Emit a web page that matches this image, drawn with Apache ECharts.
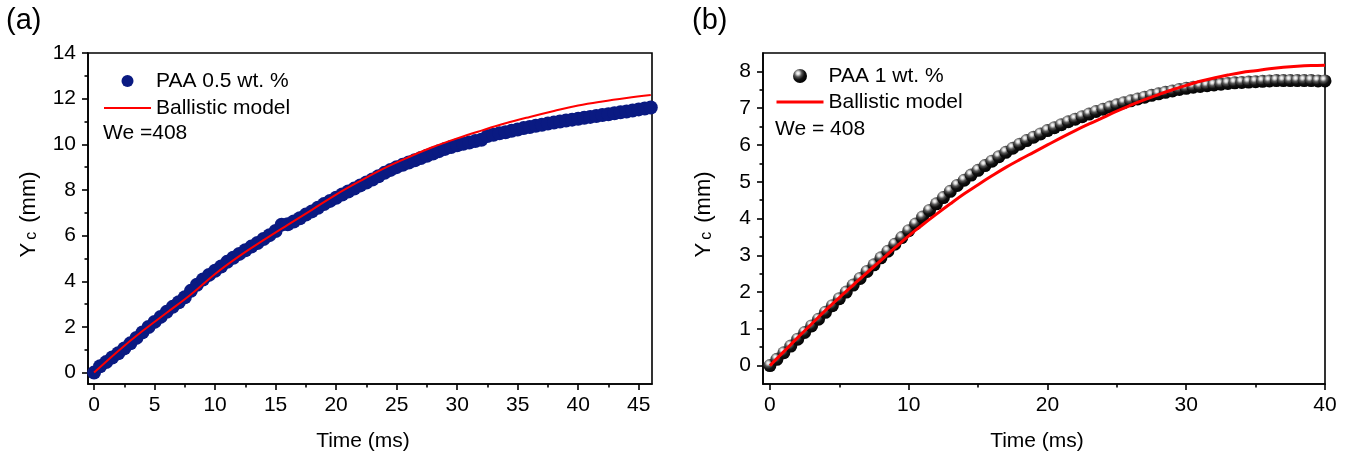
<!DOCTYPE html>
<html>
<head>
<meta charset="utf-8">
<script src="https://cdn.jsdelivr.net/npm/echarts@6/dist/echarts.min.js"></script>
<style>
html,body{margin:0;padding:0;background:#fff;}
#chart{width:1361px;height:464px;}
</style>
</head>
<body>
<div id="chart"></div>
<script>
// ---------- data: panel (a) ----------
const paa05Time = [0,0.5,1,1.5,2,2.5,3,3.5,4,4.5,5,5.5,6,6.5,7,7.5,8,8.5,9,9.5,10,10.5,11,11.5,12,12.5,13,13.5,14,14.5,15,15.5,16,16.5,17,17.5,18,18.5,19,19.5,20,20.5,21,21.5,22,22.5,23,23.5,24,24.5,25,25.5,26,26.5,27,27.5,28,28.5,29,29.5,30,30.5,31,31.5,32,32.5,33,33.5,34,34.5,35,35.5,36,36.5,37,37.5,38,38.5,39,39.5,40,40.5,41,41.5,42,42.5,43,43.5,44,44.5,45,45.5,46];
const paa05Yc = [0,0.28,0.46,0.66,0.85,1.06,1.28,1.52,1.76,2.0,2.22,2.44,2.66,2.88,3.08,3.3,3.58,3.85,4.08,4.28,4.46,4.65,4.85,5.03,5.2,5.36,5.52,5.68,5.85,6.02,6.2,6.48,6.5,6.62,6.76,6.92,7.06,7.22,7.38,7.52,7.66,7.8,7.93,8.06,8.2,8.33,8.46,8.6,8.75,8.88,9.0,9.1,9.2,9.3,9.4,9.5,9.6,9.7,9.8,9.88,9.96,10.02,10.08,10.14,10.2,10.36,10.42,10.48,10.53,10.59,10.65,10.71,10.76,10.81,10.86,10.91,10.95,11.0,11.04,11.08,11.12,11.16,11.2,11.24,11.28,11.32,11.36,11.4,11.44,11.48,11.53,11.57,11.61];
const modelATime = [0,2,4,6,8,10,12,14,16,18,20,22,24,26,28,30,32,34,36,38,40,42,44,46];
const modelAYc = [0,0.95,1.82,2.62,3.42,4.32,5.1,5.8,6.47,7.13,7.8,8.4,8.96,9.44,9.88,10.26,10.6,10.92,11.2,11.46,11.7,11.88,12.03,12.16];

// ---------- data: panel (b) ----------
const paa1Time = [0,0.5,1,1.5,2,2.5,3,3.5,4,4.5,5,5.5,6,6.5,7,7.5,8,8.5,9,9.5,10,10.5,11,11.5,12,12.5,13,13.5,14,14.5,15,15.5,16,16.5,17,17.5,18,18.5,19,19.5,20,20.5,21,21.5,22,22.5,23,23.5,24,24.5,25,25.5,26,26.5,27,27.5,28,28.5,29,29.5,30,30.5,31,31.5,32,32.5,33,33.5,34,34.5,35,35.5,36,36.5,37,37.5,38,38.5,39,39.5,40];
const paa1Yc = [0,0.17,0.35,0.53,0.72,0.9,1.08,1.26,1.45,1.63,1.82,2.0,2.19,2.37,2.56,2.74,2.93,3.11,3.3,3.48,3.67,3.85,4.04,4.22,4.4,4.57,4.74,4.9,5.04,5.18,5.31,5.44,5.56,5.68,5.8,5.91,6.02,6.12,6.21,6.3,6.39,6.47,6.55,6.63,6.7,6.77,6.84,6.91,6.97,7.03,7.09,7.15,7.2,7.25,7.3,7.35,7.39,7.43,7.47,7.51,7.54,7.57,7.59,7.61,7.63,7.65,7.67,7.69,7.7,7.71,7.72,7.73,7.74,7.75,7.75,7.75,7.75,7.75,7.75,7.74,7.74];
const modelBTime = [0,1,2,3,4,5,6,7,8,9,10,11,12,13,14,15,16,17,18,19,20,21,22,23,24,25,26,27,28,29,30,31,32,33,34,35,36,37,38,39,40];
const modelBYc = [0,0.38,0.76,1.13,1.5,1.85,2.19,2.53,2.86,3.2,3.53,3.83,4.12,4.4,4.67,4.92,5.16,5.39,5.6,5.8,6.0,6.2,6.39,6.57,6.74,6.92,7.08,7.23,7.37,7.5,7.62,7.73,7.82,7.9,7.97,8.02,8.07,8.11,8.14,8.16,8.17];

// ---------- tick labels ----------
const xTicksA = [0,5,10,15,20,25,30,35,40,45];
const xMinorA = [2.5,7.5,12.5,17.5,22.5,27.5,32.5,37.5,42.5];
const yTicksA = [0,2,4,6,8,10,12,14];
const yMinorA = [1,3,5,7,9,11,13];
const xTicksB = [0,10,20,30,40];
const xMinorB = [5,15,25,35];
const yTicksB = [0,1,2,3,4,5,6,7,8];
const yMinorB = [0.5,1.5,2.5,3.5,4.5,5.5,6.5,7.5];

const FONT = "'Liberation Sans', Arial, sans-serif";
const zip = (a, b) => a.map((v, i) => [v, b[i]]);

const chart = echarts.init(document.getElementById('chart'), null, {renderer: 'canvas'});

function mainAxis(grid, min, max, ticks, isX, name) {
  return {
    gridIndex: grid, type: 'value', min: min, max: max,
    position: isX ? 'bottom' : 'left',
    axisLine: {show: true, onZero: false, lineStyle: {color: '#000', width: 1.6}},
    axisTick: {show: true, inside: false, length: 6, customValues: ticks, lineStyle: {color: '#000', width: 1.6}},
    axisLabel: {show: true, customValues: ticks, color: '#000', fontSize: 21, fontFamily: FONT, margin: isX ? 11 : 12},
    splitLine: {show: false},
    name: name, nameLocation: 'middle',
    nameGap: isX ? 47 : 48,
    nameTextStyle: isX ? {color: '#000', fontSize: 21, fontFamily: FONT, padding: [0, 14, 0, 0]} : {
      color: '#000', fontFamily: FONT, padding: [0, 0, 0, 8],
      rich: {
        a: {fontSize: 22, fontFamily: FONT, color: '#000', verticalAlign: 'bottom', lineHeight: 24},
        s: {fontSize: 16, fontFamily: FONT, color: '#000', verticalAlign: 'bottom', lineHeight: 20, padding: [0, 3, 0, 3]}
      }
    }
  };
}
function minorAxis(grid, min, max, ticks, isX) {
  return {
    gridIndex: grid, type: 'value', min: min, max: max,
    position: isX ? 'bottom' : 'left',
    axisLine: {show: false, onZero: false},
    axisTick: {show: true, inside: false, length: 3.5, customValues: ticks, lineStyle: {color: '#000', width: 1.6}},
    axisLabel: {show: false},
    splitLine: {show: false}
  };
}

const yName = '{a|Y}{s|c}{a| (mm)}';

const sphere = {
  type: 'radial', x: 0.36, y: 0.3, r: 0.75,
  colorStops: [
    {offset: 0, color: '#ffffff'},
    {offset: 0.14, color: '#dddddd'},
    {offset: 0.36, color: '#555555'},
    {offset: 0.62, color: '#111111'},
    {offset: 1, color: '#000000'}
  ]
};

const option = {
  animation: false,
  backgroundColor: '#fff',
  grid: [
    {left: 88, top: 53, width: 564, height: 331, show: true, borderColor: '#000', borderWidth: 1.6, backgroundColor: 'transparent', containLabel: false},
    {left: 763, top: 53, width: 562, height: 331, show: true, borderColor: '#000', borderWidth: 1.6, backgroundColor: 'transparent', containLabel: false}
  ],
  xAxis: [
    mainAxis(0, -0.5, 46.1, xTicksA, true, 'Time (ms)'),
    minorAxis(0, -0.5, 46.1, xMinorA, true),
    mainAxis(1, -0.5, 40, xTicksB, true, 'Time (ms)'),
    minorAxis(1, -0.5, 40, xMinorB, true)
  ],
  yAxis: [
    mainAxis(0, -0.5, 14, yTicksA, false, yName),
    minorAxis(0, -0.5, 14, yMinorA, false),
    mainAxis(1, -0.5, 8.5, yTicksB, false, yName),
    minorAxis(1, -0.5, 8.5, yMinorB, false)
  ],
  legend: [
    {
      data: ['PAA 0.5 wt. %', {name: 'Ballistic model', itemStyle: {opacity: 0, color: 'rgba(0,0,0,0)', borderWidth: 0}}],
      orient: 'vertical', left: 103, top: 70, itemWidth: 47, itemHeight: 12, itemGap: 5,
      selectedMode: false, padding: 0,
      textStyle: {color: '#000', fontSize: 21, fontFamily: FONT, lineHeight: 22},
      lineStyle: {width: 2}
    },
    {
      data: ['PAA 1 wt. %', {name: 'Ballistic model ', itemStyle: {opacity: 0, color: 'rgba(0,0,0,0)', borderWidth: 0}}],
      orient: 'vertical', left: 775, top: 65, itemWidth: 47, itemHeight: 14, itemGap: 4,
      selectedMode: false, padding: 0,
      textStyle: {color: '#000', fontSize: 21, fontFamily: FONT, lineHeight: 22},
      lineStyle: {width: 3}
    }
  ],
  graphic: [
    {type: 'text', left: 6, top: 6, style: {text: '(a)', fontSize: 29, fontFamily: FONT, fill: '#000'}},
    {type: 'text', left: 692, top: 6, style: {text: '(b)', fontSize: 29, fontFamily: FONT, fill: '#000'}},
    {type: 'text', left: 103, top: 123, style: {text: 'We =408', fontSize: 21, fontFamily: FONT, fill: '#000'}},
    {type: 'text', left: 775, top: 119, style: {text: 'We = 408', fontSize: 21, fontFamily: FONT, fill: '#000'}}
  ],
  series: [
    {
      name: 'PAA 0.5 wt. %', type: 'scatter', xAxisIndex: 0, yAxisIndex: 0,
      data: zip(paa05Time, paa05Yc), symbol: 'circle', symbolSize: 14,
      itemStyle: {color: '#0a1a82', opacity: 1}, z: 2
    },
    {
      name: 'Ballistic model', type: 'line', xAxisIndex: 0, yAxisIndex: 0,
      data: zip(modelATime, modelAYc), smooth: 0.4, symbol: 'none',
      lineStyle: {color: '#ff0000', width: 2}, itemStyle: {color: '#ff0000'}, z: 3
    },
    {
      name: 'PAA 1 wt. %', type: 'scatter', xAxisIndex: 2, yAxisIndex: 2,
      data: zip(paa1Time, paa1Yc), symbol: 'circle', symbolSize: 13,
      itemStyle: {color: sphere, opacity: 1}, z: 2
    },
    {
      name: 'Ballistic model ', type: 'line', xAxisIndex: 2, yAxisIndex: 2,
      data: zip(modelBTime, modelBYc), smooth: 0.4, symbol: 'none',
      lineStyle: {color: '#ff0000', width: 3}, itemStyle: {color: '#ff0000'}, z: 3
    }
  ]
};
chart.setOption(option);
</script>
</body>
</html>
